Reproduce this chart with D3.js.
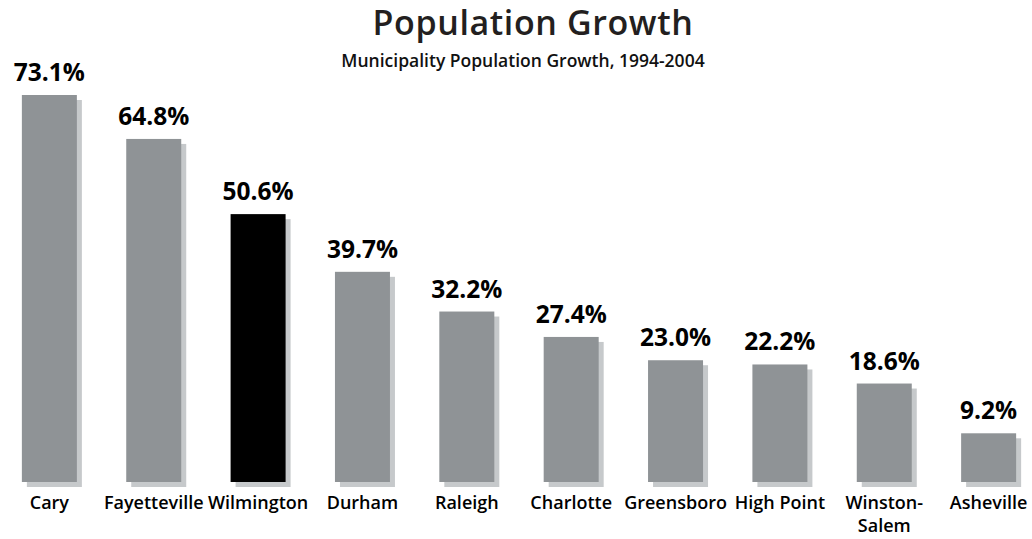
<!DOCTYPE html>
<html>
<head>
<meta charset="utf-8">
<script src="https://cdn.jsdelivr.net/npm/d3@7"></script>
<style>
  html, body { margin: 0; padding: 0; background: #ffffff; }
  svg { display: block; }
  text { font-family: "Open Sans", "DejaVu Sans", sans-serif; }
</style>
</head>
<body>
<div id="chart"></div>
<script>
// Municipality population growth, 1994-2004
const cities = ["Cary", "Fayetteville", "Wilmington", "Durham", "Raleigh",
                "Charlotte", "Greensboro", "High Point", "Winston-Salem", "Asheville"];
const growth = [73.1, 64.8, 50.6, 39.7, 32.2, 27.4, 23.0, 22.2, 18.6, 9.2];
const highlighted = ["Wilmington"];
const titleText = "Population Growth";
const subtitleText = "Municipality Population Growth, 1994-2004";

const W = 1032, H = 539;
const baseY = 482, topY = 95;
const shadowOffset = 5;

const data = cities.map((c, i) => ({ city: c, value: growth[i] }));

const svg = d3.select("#chart").append("svg")
  .attr("width", W).attr("height", H);

const x = d3.scaleBand()
  .domain(cities)
  .range([1, 1037])
  .paddingInner(0.473)
  .paddingOuter(0.2);

const y = d3.scaleLinear()
  .domain([0, d3.max(growth)])
  .range([baseY, topY]);

// Titles
svg.append("text")
  .attr("x", W / 2 + 17).attr("y", 35)
  .attr("text-anchor", "middle")
  .attr("fill", "#231f20")
  .attr("font-size", 34).attr("font-weight", 600)
  .attr("letter-spacing", 0.6)
  .text(titleText);

svg.append("text")
  .attr("x", W / 2 + 7).attr("y", 67)
  .attr("text-anchor", "middle")
  .attr("fill", "#111")
  .attr("font-size", 17.5).attr("font-weight", 600)
  .text(subtitleText);

// Drop shadows behind bars
svg.append("g").selectAll("rect")
  .data(data).join("rect")
  .attr("x", d => x(d.city) + shadowOffset)
  .attr("y", d => y(d.value) + shadowOffset)
  .attr("width", x.bandwidth())
  .attr("height", d => baseY - y(d.value))
  .attr("fill", "#c6c9cb");

// Bars
svg.append("g").selectAll("rect")
  .data(data).join("rect")
  .attr("x", d => x(d.city))
  .attr("y", d => y(d.value))
  .attr("width", x.bandwidth())
  .attr("height", d => baseY - y(d.value))
  .attr("fill", d => highlighted.includes(d.city) ? "#000000" : "#8f9396");

// Value labels
svg.append("g").selectAll("text")
  .data(data).join("text")
  .attr("x", d => x(d.city) + x.bandwidth() / 2)
  .attr("y", d => y(d.value) - 14)
  .attr("text-anchor", "middle")
  .attr("font-size", 24.5).attr("font-weight", 700)
  .attr("fill", "#000")
  .text(d => d.value.toFixed(1) + "%");

// Category labels (hyphenated names wrap after the hyphen)
const labels = svg.append("g").selectAll("text")
  .data(data).join("text")
  .attr("x", d => x(d.city) + x.bandwidth() / 2)
  .attr("y", 509)
  .attr("text-anchor", "middle")
  .attr("font-size", 18).attr("font-weight", 600)
  .attr("fill", "#000");

labels.each(function(d) {
  const parts = d.city.includes("-") ? [d.city.split("-")[0] + "-", d.city.split("-")[1]] : [d.city];
  const t = d3.select(this);
  parts.forEach((p, i) => {
    t.append("tspan")
      .attr("x", x(d.city) + x.bandwidth() / 2)
      .attr("dy", i === 0 ? 0 : 23)
      .text(p);
  });
});
</script>
</body>
</html>
